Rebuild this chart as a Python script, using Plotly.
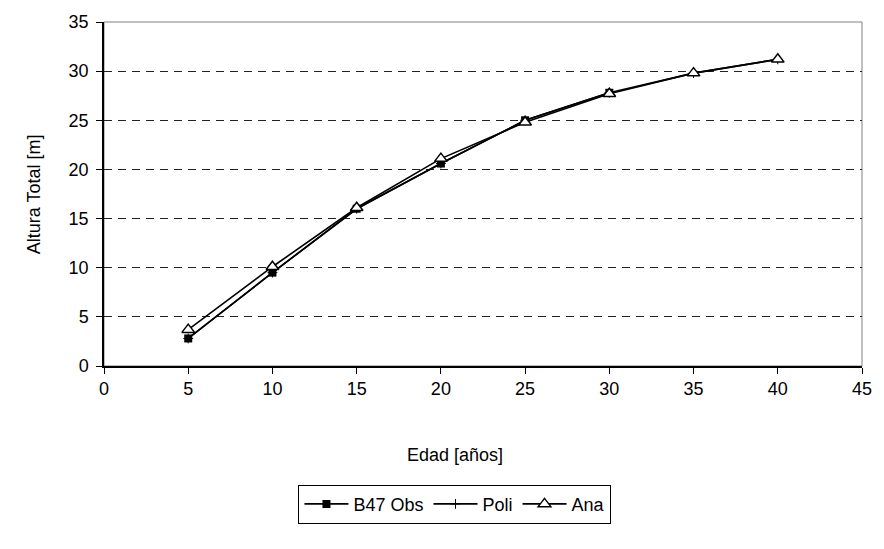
import plotly.graph_objects as go

# Edad (años) y altura total (m)
edad_obs = [5, 10, 15, 20, 25, 30]
altura_obs = [2.8, 9.5, 16.0, 20.6, 25.0, 27.8]

edad_poli = [5, 10, 15, 20, 25, 30, 35, 40]
altura_poli = [2.8, 9.5, 16.0, 20.6, 25.0, 27.8, 29.8, 31.2]

edad_ana = [5, 10, 15, 20, 25, 30, 35, 40]
altura_ana = [3.7, 10.1, 16.1, 21.1, 24.8, 27.7, 29.8, 31.2]

x_ticks = [0, 5, 10, 15, 20, 25, 30, 35, 40, 45]
y_ticks = [0, 5, 10, 15, 20, 25, 30, 35]

FONT = "Liberation Sans, Arial, sans-serif"

fig = go.Figure()

fig.add_trace(go.Scatter(
    x=edad_obs, y=altura_obs, name="B47 Obs", mode="lines+markers",
    line=dict(color="black", width=1.6),
    marker=dict(symbol="square", size=8, color="black"),
))
fig.add_trace(go.Scatter(
    x=edad_poli, y=altura_poli, name="Poli", mode="lines+markers",
    line=dict(color="black", width=1.6),
    marker=dict(symbol="cross-thin", size=7, color="black",
                line=dict(color="black", width=1)),
))
fig.add_trace(go.Scatter(
    x=edad_ana, y=altura_ana, name="Ana", mode="lines+markers",
    line=dict(color="black", width=1.6),
    marker=dict(symbol="triangle-up", size=11, color="white",
                line=dict(color="black", width=1.5)),
))

# marco gris del área de trazado
fig.add_shape(type="rect", xref="x domain", yref="y domain",
              x0=0, x1=1, y0=0, y1=1,
              line=dict(color="#808080", width=1), layer="below")

fig.update_layout(
    width=884, height=549,
    margin=dict(l=104, r=22, t=22, b=183),
    paper_bgcolor="white", plot_bgcolor="white",
    font=dict(family=FONT, size=18, color="black"),
    showlegend=True,
    legend=dict(
        orientation="h", x=0.463, xanchor="center", y=-0.345, yanchor="top",
        bordercolor="black", borderwidth=1, bgcolor="white",
        font=dict(family=FONT, size=18), itemwidth=44,
        tracegroupgap=0,
    ),
    xaxis=dict(
        range=[0, 45], tickvals=x_ticks, ticktext=[str(v) for v in x_ticks],
        showgrid=False, zeroline=False,
        showline=True, linecolor="black", linewidth=1.5,
        ticks="outside", ticklen=6, tickcolor="black", tickwidth=1,
        tickfont=dict(family=FONT, size=18),
    ),
    yaxis=dict(
        range=[0, 35], tickvals=y_ticks, ticktext=[str(v) for v in y_ticks],
        showgrid=True, gridcolor="#222222", gridwidth=1, griddash="8px,6px",
        zeroline=False,
        showline=True, linecolor="black", linewidth=1.5,
        ticks="outside", ticklen=6, tickcolor="black", tickwidth=1,
        tickfont=dict(family=FONT, size=18), ticklabelstandoff=4,
    ),
    annotations=[
        dict(text="Edad [años]", xref="paper", yref="paper",
             x=0.463, y=-0.26, xanchor="center", yanchor="middle",
             showarrow=False, font=dict(family=FONT, size=18)),
        dict(text="Altura Total [m]", xref="paper", yref="paper",
             x=-0.092, y=0.5, xanchor="center", yanchor="middle",
             textangle=-90, showarrow=False, font=dict(family=FONT, size=18)),
    ],
)

fig.write_html("out.html")
